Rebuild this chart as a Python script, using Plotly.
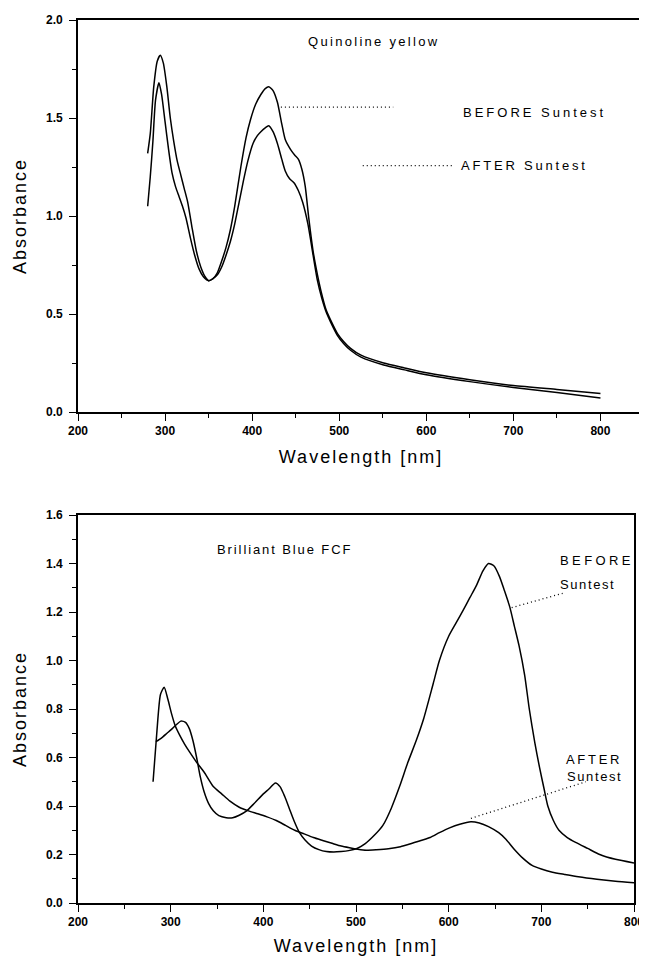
import plotly.graph_objects as go

# ---------------- Data: Quinoline yellow (top panel) ----------------
qy_wl_before = [280, 283, 287, 291, 294.5, 298, 302, 306, 310, 314, 318, 322, 326, 331, 336, 341, 346, 350,
                355, 360, 365, 370, 375, 380, 387, 393, 398, 404, 410, 415, 419, 424, 429, 434, 438, 444,
                449, 453, 457, 461, 465, 470, 475, 480, 485, 490, 498, 505, 513, 525, 551, 575, 600, 650,
                700, 750, 800]
qy_abs_before = [1.32, 1.42, 1.66, 1.79, 1.82, 1.78, 1.66, 1.50, 1.38, 1.28, 1.21, 1.14, 1.07, 0.94, 0.82, 0.74, 0.69, 0.67,
                 0.68, 0.71, 0.77, 0.84, 0.93, 1.05, 1.25, 1.40, 1.49, 1.57, 1.62, 1.65, 1.66, 1.64, 1.58, 1.47, 1.39, 1.34,
                 1.31, 1.29, 1.24, 1.15, 0.99, 0.82, 0.70, 0.60, 0.52, 0.47, 0.40, 0.36, 0.325, 0.29, 0.25, 0.225, 0.20, 0.165,
                 0.135, 0.115, 0.095]

qy_wl_after = [280, 283, 286, 289, 293, 296, 300, 304, 308, 312, 316, 320, 324, 329, 334, 339, 344, 350,
               355, 360, 365, 370, 375, 380, 385, 390, 395, 401, 406, 410, 415, 419, 424, 429, 434, 438,
               443, 448, 453, 458, 464, 470, 475, 480, 485, 490, 498, 505, 513, 525, 551, 575, 600, 650,
               700, 750, 800]
qy_abs_after = [1.05, 1.20, 1.38, 1.59, 1.68, 1.62, 1.48, 1.34, 1.22, 1.15, 1.10, 1.05, 0.99, 0.89, 0.80, 0.73, 0.69, 0.67,
                0.68, 0.70, 0.74, 0.80, 0.87, 0.96, 1.07, 1.18, 1.28, 1.37, 1.41, 1.43, 1.45, 1.46, 1.43, 1.37, 1.29, 1.23,
                1.19, 1.17, 1.13, 1.07, 0.96, 0.80, 0.67, 0.58, 0.51, 0.46, 0.39, 0.35, 0.315, 0.28, 0.24, 0.215, 0.19, 0.155,
                0.125, 0.10, 0.072]

# ---------------- Data: Brilliant Blue FCF (bottom panel) ----------------
bb_wl_before = [284, 290, 296, 302, 306, 311, 316, 320, 324, 328, 332, 336, 341, 346, 352, 360, 367, 374,
                382, 390, 400, 406, 413, 418, 423, 428, 433, 439, 445, 452, 460, 468, 476, 484, 492, 501,
                510, 520, 529, 538, 547, 556, 565, 573, 583, 590, 600, 608, 616, 623, 630, 637, 643, 649,
                655, 660, 666, 671, 676, 682, 687, 693, 698, 703, 707, 713, 719, 728, 737, 750, 763, 780, 800]
bb_abs_before = [0.665, 0.68, 0.70, 0.72, 0.735, 0.75, 0.745, 0.72, 0.67, 0.60, 0.52, 0.46, 0.41, 0.38, 0.36, 0.352, 0.352, 0.362,
                 0.38, 0.41, 0.45, 0.47, 0.495, 0.48, 0.44, 0.39, 0.34, 0.29, 0.26, 0.235, 0.22, 0.212, 0.21, 0.212, 0.216, 0.225,
                 0.245, 0.28, 0.32, 0.39, 0.48, 0.58, 0.67, 0.76, 0.90, 1.00, 1.10, 1.155, 1.21, 1.26, 1.31, 1.37, 1.40, 1.39,
                 1.345, 1.29, 1.22, 1.14, 1.06, 0.94, 0.80, 0.66, 0.56, 0.47, 0.40, 0.34, 0.30, 0.27, 0.25, 0.225, 0.20, 0.18, 0.165]

bb_wl_after = [281, 285, 289, 293, 297, 301, 305, 310, 315, 320, 328, 336, 346, 355, 364, 374, 384, 394,
               404, 414, 424, 434, 444, 454, 464, 475, 484, 493, 502, 511, 522, 535, 548, 558, 570, 580,
               590, 601, 612, 624, 633, 643, 654, 662, 670, 680, 690, 700, 712, 725, 740, 760, 780, 800]
bb_abs_after = [0.50, 0.70, 0.86, 0.89, 0.84, 0.78, 0.73, 0.69, 0.655, 0.625, 0.58, 0.54, 0.48, 0.45, 0.42, 0.395, 0.38, 0.368,
                0.355, 0.34, 0.32, 0.30, 0.285, 0.27, 0.258, 0.245, 0.235, 0.228, 0.222, 0.218, 0.22, 0.224, 0.232, 0.243, 0.258, 0.27,
                0.29, 0.31, 0.325, 0.335, 0.33, 0.315, 0.29, 0.262, 0.225, 0.185, 0.155, 0.14, 0.127, 0.118, 0.108, 0.098, 0.09, 0.084]

x_ticks = [200, 300, 400, 500, 600, 700, 800]
qy_y_ticks = [0.0, 0.5, 1.0, 1.5, 2.0]
bb_y_ticks = [0.0, 0.2, 0.4, 0.6, 0.8, 1.0, 1.2, 1.4, 1.6]

# The page body has an 8px default margin on every side; the figure is sized so
# the page never scrolls, and reference pixel positions are shifted by the offset.
OFF = 8
W, H = 647 - OFF, 964 - 2 * OFF
FONT = "Liberation Sans, Arial, sans-serif"


def sp(text, ls):
    return f'<span style="letter-spacing:{ls}px">{text}</span>'


def dx(px):
    return (px - OFF) / W


def dy(py):
    return 1 - (py - OFF) / H


fig = go.Figure()
line_style = dict(color="black", width=1.5, shape="spline", smoothing=0.6)
fig.add_trace(go.Scatter(x=qy_wl_before, y=qy_abs_before, mode="lines", line=line_style, xaxis="x", yaxis="y", showlegend=False))
fig.add_trace(go.Scatter(x=qy_wl_after, y=qy_abs_after, mode="lines", line=line_style, xaxis="x", yaxis="y", showlegend=False))
fig.add_trace(go.Scatter(x=bb_wl_before, y=bb_abs_before, mode="lines", line=line_style, xaxis="x2", yaxis="y2", showlegend=False))
fig.add_trace(go.Scatter(x=bb_wl_after, y=bb_abs_after, mode="lines", line=line_style, xaxis="x2", yaxis="y2", showlegend=False))

axis_common = dict(
    showgrid=False, zeroline=False, showline=True, linecolor="black", linewidth=1.6,
    mirror=True, ticks="outside", ticklen=7, tickwidth=1.4, tickcolor="black",
    tickfont=dict(family=FONT, size=12, color="black", weight="bold"), automargin=False,
    ticklabeloverflow="allow",
)
title_font = dict(family=FONT, size=18, color="black")

fig.update_layout(
    width=W, height=H,
    margin=dict(l=0, r=0, t=0, b=0),
    paper_bgcolor="white", plot_bgcolor="white",
    font=dict(family=FONT, color="black"),
    xaxis=dict(axis_common, domain=[dx(78), dx(644)], range=[200, 850], anchor="y",
               tickvals=x_ticks, ticktext=[str(v) for v in x_ticks],
               minor=dict(ticks="outside", dtick=50, ticklen=4, tickwidth=1.2, tickcolor="black"),
               title=dict(text=sp("Wavelength [nm]", 2), font=title_font, standoff=13)),
    yaxis=dict(axis_common, domain=[dy(412), dy(20)], range=[0, 2.0], anchor="x",
               tickvals=qy_y_ticks, ticktext=[f"{v:.1f}" for v in qy_y_ticks],
               ticklabelstandoff=4,
               minor=dict(ticks="outside", dtick=0.25, ticklen=4, tickwidth=1.2, tickcolor="black"),
               title=dict(text=sp("Absorbance", 2), font=title_font, standoff=15)),
    xaxis2=dict(axis_common, domain=[dx(78), dx(634)], range=[200, 800], anchor="y2",
                tickvals=x_ticks, ticktext=[str(v) for v in x_ticks],
                minor=dict(ticks="outside", dtick=50, ticklen=4, tickwidth=1.2, tickcolor="black"),
                title=dict(text=sp("Wavelength [nm]", 2), font=title_font, standoff=11)),
    yaxis2=dict(axis_common, domain=[dy(903), dy(515)], range=[0, 1.6], anchor="x2",
                tickvals=bb_y_ticks, ticktext=[f"{v:.1f}" for v in bb_y_ticks],
                ticklabelstandoff=4,
                minor=dict(ticks="outside", dtick=0.1, ticklen=4, tickwidth=1.2, tickcolor="black"),
                title=dict(text=sp("Absorbance", 2), font=title_font, standoff=15)),
)

ann_font = dict(family=FONT, size=13, color="black")
anns = [
    ("x", "y", 465, 1.89, "Quinoline yellow", 2.3),
    ("x", "y", 643, 1.53, "BEFORE Suntest", 3.0),
    ("x", "y", 641, 1.257, "AFTER Suntest", 2.8),
    ("x2", "y2", 351, 1.456, "Brilliant Blue FCF", 1.9),
    ("x2", "y2", 721, 1.414, "BEFORE", 3.4),
    ("x2", "y2", 721, 1.314, "Suntest", 1.6),
    ("x2", "y2", 728, 0.59, "AFTER", 2.7),
    ("x2", "y2", 729, 0.521, "Suntest", 1.6),
]
for xr, yr, xv, yv, t, ls in anns:
    fig.add_annotation(x=xv, y=yv, xref=xr, yref=yr, text=sp(t, ls), showarrow=False,
                       xanchor="left", yanchor="middle", xshift=-3, font=ann_font)

dot = dict(color="black", width=1.3, dash="1px,3px")
fig.add_shape(type="line", xref="x", yref="y", x0=433, y0=1.555, x1=562, y1=1.555, line=dot)
fig.add_shape(type="line", xref="x", yref="y", x0=527, y0=1.257, x1=630, y1=1.257, line=dot)
fig.add_shape(type="line", xref="x2", yref="y2", x0=668, y0=1.218, x1=723, y1=1.277, line=dot)
fig.add_shape(type="line", xref="x2", yref="y2", x0=624, y0=0.349, x1=748, y1=0.50, line=dot)

fig.write_html("out.html")
